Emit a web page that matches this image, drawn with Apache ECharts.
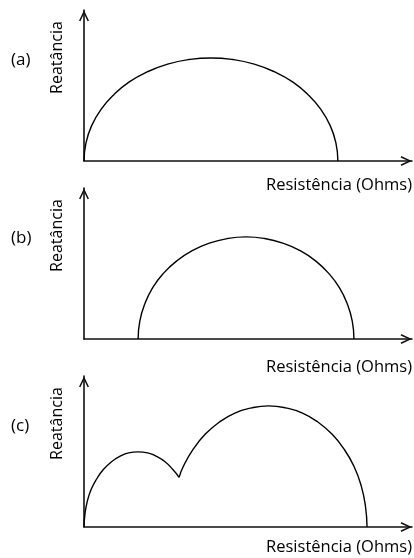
<!DOCTYPE html>
<html>
<head>
<meta charset="utf-8">
<script src="https://cdn.jsdelivr.net/npm/echarts@6/dist/echarts.min.js"></script>
<style>
  html, body { margin: 0; padding: 0; background: #fff; }
  #chart { width: 414px; height: 558px; }
</style>
</head>
<body>
<div id="chart"></div>
<script>
// Impedance spectra: three Nyquist-style sketches (reactance vs resistance)
const panelLabels = ['(a)', '(b)', '(c)'];
const xName = 'Resistência (Ohms)';
const yName = 'Reatância';

// (a) single arc starting at the origin
const arcA = [[0,0],[0.6,5.5],[2.3,10.7],[5.2,15.7],[9.1,20.2],[13.8,24.1],[19.4,27.2],[25.5,29.5],[32.0,30.9],[38.7,31.4],[45.4,30.9],[51.9,29.5],[58.0,27.2],[63.6,24.1],[68.3,20.2],[72.2,15.7],[75.1,10.7],[76.8,5.5],[77.4,0]];
// (b) single arc shifted by a series resistance
const arcB = [[16.5,0],[17.0,5.4],[18.5,10.6],[20.9,15.6],[24.2,20.0],[28.3,23.8],[33.0,26.9],[38.2,29.2],[43.7,30.6],[49.4,31.1],[55.1,30.6],[60.6,29.2],[65.9,26.9],[70.6,23.8],[74.6,20.0],[77.9,15.6],[80.3,10.6],[81.8,5.4],[82.3,0]];
// (c) two overlapping arcs
const arcC1 = [[0,0],[0.3,4.0],[1.0,7.8],[2.2,11.5],[3.9,14.7],[5.9,17.5],[8.3,19.8],[10.9,21.5],[13.6,22.6],[16.5,22.9],[19.4,22.6],[22.1,21.5],[24.8,19.8],[27.1,17.5],[29.0,15.1]];
const arcC2 = [[29.0,15.1],[30.3,18.5],[33.3,23.7],[37.0,28.3],[41.3,32.0],[46.0,34.7],[51.1,36.3],[56.3,36.9],[61.5,36.3],[66.6,34.7],[71.3,32.0],[75.6,28.3],[79.3,23.7],[82.3,18.5],[84.5,12.6],[85.8,6.4],[86.3,0]];

const xMax = 100;
const yMax = 46;

const FONT = 'Open Sans';
const INK = '#000';
// open chevron arrow head, pointing up in its own frame
const ARROW = 'path://M50,0 L100,106 L86,112 L50,36 L14,112 L0,106 Z';
const ARROW_SIZE = [10, 11.5];

const gridTops = [10, 188, 376];
const xNamePad = [16, 20, 12];

const chart = echarts.init(document.getElementById('chart'), null, { renderer: 'canvas' });

const grids = gridTops.map(t => ({
  left: 84, top: t, width: 328, height: 151, outerBoundsMode: 'none'
}));

const axisLine = {
  show: true,
  symbol: ['none', ARROW],
  symbolSize: ARROW_SIZE,
  symbolOffset: [0, -ARROW_SIZE[1] / 2],
  lineStyle: { color: '#111', width: 1.6 }
};

const xAxes = gridTops.map((t, i) => ({
  type: 'value', gridIndex: i, min: 0, max: xMax,
  axisLine: axisLine,
  axisTick: { show: false }, axisLabel: { show: false }, splitLine: { show: false },
  name: xName, nameLocation: 'end', nameGap: 0,
  nameTextStyle: {
    fontFamily: FONT, fontSize: 16.5, color: INK,
    align: 'right', verticalAlign: 'top', padding: [xNamePad[i], 0, 0, 0]
  }
}));

const yAxes = gridTops.map((t, i) => ({
  type: 'value', gridIndex: i, min: 0, max: yMax,
  axisLine: axisLine,
  axisTick: { show: false }, axisLabel: { show: false }, splitLine: { show: false },
  name: yName, nameLocation: 'middle', nameGap: 19, nameRotate: 90,
  nameTextStyle: {
    fontFamily: FONT, fontSize: 16, color: INK,
    padding: [0, 0, 0, 56]
  }
}));

const lineSeries = (data, i) => ({
  type: 'line', xAxisIndex: i, yAxisIndex: i, data: data,
  smooth: true, showSymbol: false, symbol: 'none',
  lineStyle: { color: INK, width: 1.4 }, silent: true
});

const titles = panelLabels.map((txt, i) => ({
  text: txt, left: 11, top: gridTops[i] + 42, padding: 0,
  textStyle: { fontFamily: FONT, fontSize: 17, fontWeight: 'normal', color: INK }
}));

chart.setOption({
  animation: false,
  backgroundColor: '#fff',
  title: titles,
  grid: grids,
  xAxis: xAxes,
  yAxis: yAxes,
  series: [
    lineSeries(arcA, 0),
    lineSeries(arcB, 1),
    lineSeries(arcC1, 2),
    lineSeries(arcC2, 2)
  ]
});
</script>
</body>
</html>
